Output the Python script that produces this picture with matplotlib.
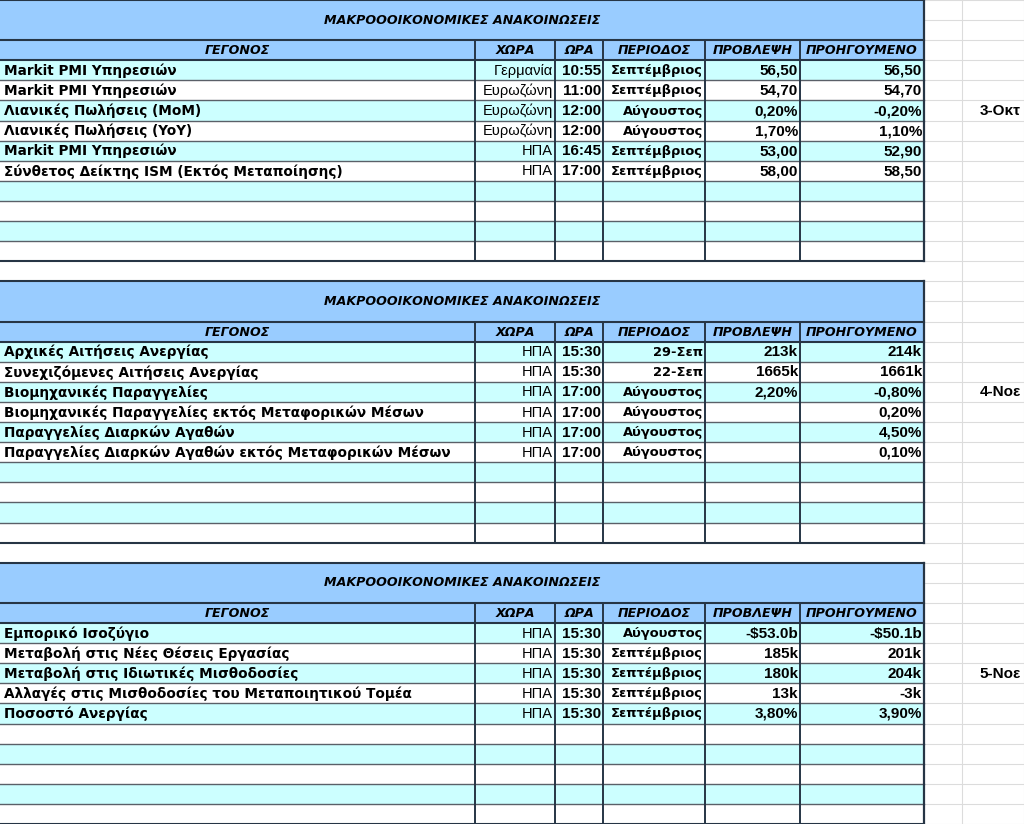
import matplotlib
matplotlib.use('Agg')
import matplotlib.pyplot as plt
from matplotlib.patches import Rectangle

# %%
# table contents, one list per column for each block
title = 'ΜΑΚΡΟΟΟΙΚΟΝΟΜΙΚΕΣ ΑΝΑΚΟΙΝΩΣΕΙΣ'
headers = ['ΓΕΓΟΝΟΣ', 'ΧΩΡΑ', 'ΩΡΑ', 'ΠΕΡΙΟΔΟΣ', 'ΠΡΟΒΛΕΨΗ', 'ΠΡΟΗΓΟΥΜΕΝΟ']

events1 = ['Markit PMI Υπηρεσιών', 'Markit PMI Υπηρεσιών', 'Λιανικές Πωλήσεις (MoM)',
           'Λιανικές Πωλήσεις (YoY)', 'Markit PMI Υπηρεσιών',
           'Σύνθετος Δείκτης ISM (Εκτός Μεταποίησης)']
countries1 = ['Γερμανία', 'Ευρωζώνη', 'Ευρωζώνη', 'Ευρωζώνη', 'ΗΠΑ', 'ΗΠΑ']
times1 = ['10:55', '11:00', '12:00', '12:00', '16:45', '17:00']
periods1 = ['Σεπτέμβριος', 'Σεπτέμβριος', 'Αύγουστος', 'Αύγουστος', 'Σεπτέμβριος', 'Σεπτέμβριος']
forecast1 = ['56,50', '54,70', '0,20%', '1,70%', '53,00', '58,00']
previous1 = ['56,50', '54,70', '-0,20%', '1,10%', '52,90', '58,50']
date1 = '3-Οκτ'

events2 = ['Αρχικές Αιτήσεις Ανεργίας', 'Συνεχιζόμενες Αιτήσεις Ανεργίας',
           'Βιομηχανικές Παραγγελίες', 'Βιομηχανικές Παραγγελίες εκτός Μεταφορικών Μέσων',
           'Παραγγελίες Διαρκών Αγαθών', 'Παραγγελίες Διαρκών Αγαθών εκτός Μεταφορικών Μέσων']
countries2 = ['ΗΠΑ'] * 6
times2 = ['15:30', '15:30', '17:00', '17:00', '17:00', '17:00']
periods2 = ['29-Σεπ', '22-Σεπ', 'Αύγουστος', 'Αύγουστος', 'Αύγουστος', 'Αύγουστος']
forecast2 = ['213k', '1665k', '2,20%', '', '', '']
previous2 = ['214k', '1661k', '-0,80%', '0,20%', '4,50%', '0,10%']
date2 = '4-Νοε'

events3 = ['Εμπορικό Ισοζύγιο', 'Μεταβολή στις Νέες Θέσεις Εργασίας',
           'Μεταβολή στις Ιδιωτικές Μισθοδοσίες',
           'Αλλαγές στις Μισθοδοσίες του Μεταποιητικού Τομέα', 'Ποσοστό Ανεργίας']
countries3 = ['ΗΠΑ'] * 5
times3 = ['15:30'] * 5
periods3 = ['Αύγουστος', 'Σεπτέμβριος', 'Σεπτέμβριος', 'Σεπτέμβριος', 'Σεπτέμβριος']
forecast3 = ['-$53.0b', '185k', '180k', '13k', '3,80%']
previous3 = ['-$50.1b', '201k', '204k', '-3k', '3,90%']
date3 = '5-Νοε'

blocks = [
    (events1, countries1, times1, periods1, forecast1, previous1, date1),
    (events2, countries2, times2, periods2, forecast2, previous2, date2),
    (events3, countries3, times3, periods3, forecast3, previous3, date3),
]

# %%
# sheet geometry (pixels)
W, H = 1024, 824
cols = [0, 475, 555, 603, 705, 800, 924]
extra_col = 962
rh = H / 41.0
n_data = 10

blue = '#99CCFF'
cyan = '#CCFFFF'
dark = '#263545'
thin = '#5a6068'
faint = '#dcdcdc'

fig = plt.figure(figsize=(W / 100, H / 100), dpi=100)
ax = fig.add_axes([0, 0, 1, 1])
ax.set_xlim(0, W)
ax.set_ylim(H, 0)
ax.axis('off')

# faint excel grid outside the table
for r in range(42):
    ax.plot([cols[-1], W], [r * rh, r * rh], color=faint, lw=0.8, zorder=0)
ax.plot([extra_col, extra_col], [0, H], color=faint, lw=0.8, zorder=0)
ax.plot([W - 0.5, W - 0.5], [0, H], color=faint, lw=0.8, zorder=0)

f_event = dict(family='DejaVu Sans', fontweight='bold', fontsize=9.8)
f_head = dict(family='DejaVu Sans', fontweight='bold', fontstyle='italic', fontsize=9.1)
f_country = dict(family='Liberation Sans', fontsize=10.5)
f_bold = dict(family='Liberation Sans', fontweight='bold', fontsize=11)
f_period = dict(family='DejaVu Sans', fontweight='bold', fontsize=9.4)

for b, (ev, co, ti, pe, fc, pr, dt) in enumerate(blocks):
    top = b * 14 * rh
    head_y = top + 2 * rh
    data_y = top + 3 * rh
    bottom = data_y + n_data * rh

    # fills
    ax.add_patch(Rectangle((0, top), cols[-1], 3 * rh, facecolor=blue, edgecolor='none', zorder=1))
    for i in range(n_data):
        c = cyan if i % 2 == 0 else 'white'
        ax.add_patch(Rectangle((0, data_y + i * rh), cols[-1], rh, facecolor=c,
                               edgecolor='none', zorder=1))

    # lines
    for i in range(1, n_data):
        y = data_y + i * rh
        ax.plot([0, cols[-1]], [y, y], color=thin, lw=1.0, zorder=2)
    for y in [top, head_y, data_y, bottom]:
        ax.plot([0, cols[-1]], [y, y], color=dark, lw=1.5, zorder=3)
    for x in cols[1:-1]:
        ax.plot([x, x], [head_y, bottom], color=dark, lw=1.4, zorder=3)
    ax.plot([cols[-1], cols[-1]], [top, bottom], color=dark, lw=1.6, zorder=3)

    # title and headers
    ax.text(cols[-1] / 2, top + rh, title, ha='center', va='center', zorder=4, **f_head)
    for j, h in enumerate(headers):
        ax.text((cols[j] + cols[j + 1]) / 2, head_y + rh / 2 + 0.5, h, ha='center',
                va='center', zorder=4, **f_head)

    # rows
    for i in range(len(ev)):
        yc = data_y + (i + 0.5) * rh + 0.5
        ax.text(cols[0] + 4, yc, ev[i], ha='left', va='center', zorder=4, **f_event)
        ax.text(cols[2] - 2, yc, co[i], ha='right', va='center', zorder=4, **f_country)
        ax.text(cols[3] - 2, yc, ti[i], ha='right', va='center', zorder=4, **f_bold)
        ax.text(cols[4] - 2, yc, pe[i], ha='right', va='center', zorder=4, **f_period)
        ax.text(cols[5] - 2, yc, fc[i], ha='right', va='center', zorder=4, **f_bold)
        ax.text(cols[6] - 2, yc, pr[i], ha='right', va='center', zorder=4, **f_bold)

    # date at the third row
    ax.text(W - 3, data_y + 2.5 * rh + 0.5, dt, ha='right', va='center', zorder=4, **f_bold)

fig.savefig('out.png', dpi=100)
